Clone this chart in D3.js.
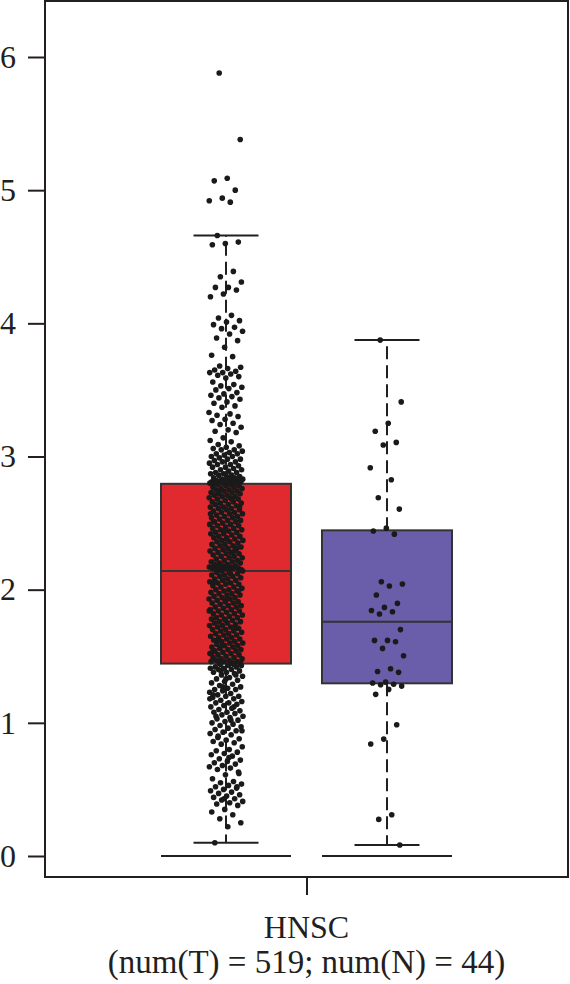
<!DOCTYPE html>
<html>
<head>
<meta charset="utf-8">
<script src="https://cdn.jsdelivr.net/npm/d3@7"></script>
<style>
  body { margin: 0; background: #fff; }
  text { font-family: "Liberation Serif", "Times New Roman", serif; fill: #231f20; }
</style>
</head>
<body>
<div id="chart"></div>
<script>
// data
var cancerType = ["HNSC"];
var groups = ["Tumor", "Normal"];
var groupColors = ["#e02a2f", "#6a5eab"];
var yTicks = [0, 1, 2, 3, 4, 5, 6];
var subLabel = "(num(T) = 519; num(N) = 44)";

// tumor samples (519)
var tumorValues = [
  5.88, 5.38, 5.09, 5.07, 5.00, 4.94, 4.92, 4.91,
  4.66, 4.61, 4.60, 4.59,
  4.39, 4.35, 4.31, 4.27, 4.27, 4.25, 4.22, 4.20,
  4.06, 4.04, 4.02, 4.01, 3.99, 3.97, 3.96, 3.94, 3.92, 3.89,
  3.87, 3.82, 3.76, 3.75, 3.68,
  3.67, 3.66, 3.65, 3.64, 3.63, 3.63, 3.62, 3.61, 3.60, 3.59,
  3.56, 3.54, 3.53, 3.52, 3.51, 3.50,
  3.48, 3.47, 3.46, 3.45, 3.44,
  3.43, 3.41, 3.40, 3.38, 3.37,
  3.33, 3.32, 3.31, 3.30, 3.28, 3.27, 3.25, 3.24,
  3.22, 3.20, 3.19, 3.18,
  3.14, 3.12, 3.11, 3.09, 3.08, 3.07,
  3.06, 3.05, 3.05, 3.04, 3.03, 3.02, 3.02, 3.01, 3.00, 3.00,
  2.99, 2.98, 2.98, 2.97, 2.96, 2.96, 2.95, 2.94, 2.94, 2.93,
  2.92, 2.92, 2.91, 2.90, 2.90, 2.89, 2.88, 2.88, 2.87, 2.87,
  2.86, 2.86, 2.85, 2.85, 2.84, 2.84, 2.83, 2.83, 2.83, 2.82,
  2.82, 2.82, 2.81, 2.81, 2.81, 2.81, 2.80, 2.80, 2.80, 2.80, 2.80,
  2.79, 2.79, 2.78, 2.78, 2.77, 2.77, 2.76, 2.76, 2.75, 2.75,
  2.74, 2.74, 2.73, 2.73, 2.72, 2.72, 2.71, 2.71, 2.70, 2.70,
  2.69, 2.69, 2.68, 2.68, 2.67, 2.66, 2.66, 2.65, 2.65, 2.64,
  2.64, 2.63, 2.62, 2.62, 2.61, 2.61, 2.60, 2.60, 2.59, 2.58,
  2.58, 2.57, 2.57, 2.56, 2.55, 2.55, 2.54, 2.54, 2.53, 2.52,
  2.52, 2.51, 2.51, 2.50, 2.49, 2.49, 2.48, 2.48, 2.47, 2.46,
  2.46, 2.45, 2.45, 2.44, 2.43, 2.43, 2.42, 2.42, 2.41, 2.40,
  2.40, 2.39, 2.39, 2.38, 2.37, 2.37, 2.36, 2.36, 2.35, 2.34,
  2.34, 2.33, 2.33, 2.32, 2.31, 2.31, 2.30, 2.30, 2.29, 2.28,
  2.28, 2.27, 2.27, 2.26, 2.25, 2.25, 2.24, 2.24, 2.23, 2.22,
  2.22, 2.21, 2.21, 2.20, 2.20, 2.19, 2.19, 2.18, 2.18, 2.17,
  2.17, 2.17, 2.16, 2.16, 2.16, 2.16, 2.15, 2.15, 2.15, 2.15,
  2.31, 2.44, 2.57, 2.68, 2.73, 2.62, 2.38, 2.51, 2.29,
  2.14, 2.14, 2.13, 2.13, 2.12, 2.11, 2.11, 2.10, 2.10, 2.09,
  2.08, 2.08, 2.07, 2.07, 2.06, 2.05, 2.05, 2.04, 2.04, 2.03,
  2.02, 2.02, 2.01, 2.00, 2.00, 1.99, 1.99, 1.98, 1.97, 1.97,
  1.96, 1.96, 1.95, 1.94, 1.94, 1.93, 1.93, 1.92, 1.91, 1.91,
  1.90, 1.90, 1.89, 1.88, 1.88, 1.87, 1.87, 1.86, 1.85, 1.85,
  1.84, 1.84, 1.83, 1.82, 1.82, 1.81, 1.81, 1.80, 1.79, 1.79,
  1.78, 1.78, 1.77, 1.76, 1.76, 1.75, 1.75, 1.74, 1.73, 1.73,
  1.72, 1.72, 1.71, 1.70, 1.70, 1.69, 1.69, 1.68, 1.67, 1.67,
  1.66, 1.66, 1.65, 1.64, 1.64, 1.63, 1.63, 1.62, 1.61, 1.61,
  1.60, 1.60, 1.59, 1.58, 1.58, 1.57, 1.57, 1.56, 1.55, 1.55,
  1.54, 1.54, 1.53, 1.52, 1.52, 1.51, 1.51, 1.50, 1.49, 1.49,
  1.48, 1.48, 1.47, 1.47, 1.46, 1.46, 1.46, 1.45, 1.45, 1.45,
  1.93, 2.06, 1.71, 1.58, 1.84, 2.12, 1.62, 1.99, 1.77, 1.53,
  1.44, 1.44, 1.43, 1.43, 1.42, 1.42, 1.41, 1.41, 1.40, 1.40,
  1.39, 1.38, 1.38, 1.37, 1.36, 1.35, 1.34, 1.33, 1.32, 1.31,
  1.30, 1.29, 1.28, 1.27, 1.26, 1.25, 1.25, 1.24, 1.23, 1.22,
  1.21, 1.20, 1.20, 1.19, 1.18, 1.17, 1.16, 1.15, 1.15, 1.14,
  1.13, 1.12, 1.11, 1.10, 1.09, 1.08, 1.08, 1.07, 1.06, 1.05,
  1.04, 1.03, 1.02, 1.01, 1.00, 0.99, 0.98, 0.97, 0.96, 0.95,
  0.94, 0.93, 0.92, 0.91, 0.90, 0.88, 0.87, 0.86, 0.85, 0.84,
  0.82, 0.80, 0.79, 0.78, 0.77, 0.76, 0.75, 0.73, 0.72, 0.71,
  0.70, 0.69, 0.68, 0.67, 0.66, 0.65, 0.63, 0.61, 0.58, 0.56,
  0.55, 0.54, 0.53, 0.52, 0.51, 0.50, 0.49, 0.48, 0.47, 0.46,
  0.45, 0.44, 0.43, 0.42, 0.41, 0.40, 0.39, 0.38, 0.35, 0.33,
  0.31, 0.28, 0.25, 0.22, 0.10, 1.36, 1.27, 1.18, 1.02, 0.89,
  0.62, 1.33, 1.21, 1.12, 1.39, 0.94, 0.74, 1.05, 0.52, 0.43
];

// normal samples (44)
var normalValues = [
  3.874, 3.41, 3.25, 3.19, 3.106, 3.086, 2.915, 2.825, 2.69, 2.605,
  2.462, 2.44, 2.417, 2.06, 2.042, 2.027, 1.96, 1.897, 1.867, 1.844,
  1.834, 1.817, 1.70, 1.619, 1.619, 1.609, 1.559, 1.504, 1.406, 1.386,
  1.379, 1.306, 1.299, 1.29, 1.286, 1.276, 1.251, 1.214, 0.986, 0.878,
  0.841, 0.31, 0.275, 0.083
];

var svgWidth = 570;
var svgHeight = 984;

var frame = { left: 45, right: 568, top: 1, bottom: 877 };

var svg = d3.select("#chart")
  .append("svg")
  .attr("width", svgWidth)
  .attr("height", svgHeight);

// scales
var yScale = d3.scaleLinear()
  .domain([0, 6])
  .range([856, 57]);

var xType = d3.scalePoint()
  .domain(cancerType)
  .range([frame.left, frame.right])
  .padding(0.5);

var center = xType("HNSC");
var xGroup = d3.scaleBand()
  .domain(groups)
  .range([center - 145.5, center + 145.5])
  .paddingInner(0.1925)
  .paddingOuter(0);

var boxW = xGroup.bandwidth();

// box stats from the values
function stats(vals) {
  var s = vals.slice().sort(d3.ascending);
  var q1 = d3.quantile(s, 0.25);
  var med = d3.quantile(s, 0.5);
  var q3 = d3.quantile(s, 0.75);
  var iqr = q3 - q1;
  var hi = d3.max(s.filter(v => v <= q3 + 1.5 * iqr));
  var lo = d3.min(s.filter(v => v >= q1 - 1.5 * iqr));
  return { q1: q1, med: med, q3: q3, hi: hi, lo: lo };
}

var series = [
  { name: "Tumor", values: tumorValues, color: groupColors[0] },
  { name: "Normal", values: normalValues, color: groupColors[1] }
];

var ink = "#231f20";

series.forEach(function (g) {
  var st = stats(g.values);
  var x0 = xGroup(g.name);
  var cx = x0 + boxW / 2;
  var gg = svg.append("g");

  // line at zero across the box width
  gg.append("line")
    .attr("x1", x0).attr("x2", x0 + boxW)
    .attr("y1", yScale(0)).attr("y2", yScale(0))
    .attr("stroke", ink).attr("stroke-width", 2);

  // whiskers
  gg.append("line")
    .attr("x1", cx).attr("x2", cx)
    .attr("y1", yScale(st.q3)).attr("y2", yScale(st.hi))
    .attr("stroke", ink).attr("stroke-width", 2)
    .attr("stroke-dasharray", "13,6");
  gg.append("line")
    .attr("x1", cx).attr("x2", cx)
    .attr("y1", yScale(st.q1)).attr("y2", yScale(st.lo))
    .attr("stroke", ink).attr("stroke-width", 2)
    .attr("stroke-dasharray", "13,6");
  [st.hi, st.lo].forEach(function (v) {
    gg.append("line")
      .attr("x1", cx - boxW / 4).attr("x2", cx + boxW / 4)
      .attr("y1", yScale(v)).attr("y2", yScale(v))
      .attr("stroke", ink).attr("stroke-width", 2);
  });

  // box
  gg.append("rect")
    .attr("x", x0)
    .attr("y", yScale(st.q3))
    .attr("width", boxW)
    .attr("height", yScale(st.q1) - yScale(st.q3))
    .attr("fill", g.color)
    .attr("stroke", "#333")
    .attr("stroke-width", 2);

  gg.append("line")
    .attr("x1", x0).attr("x2", x0 + boxW)
    .attr("y1", yScale(st.med)).attr("y2", yScale(st.med))
    .attr("stroke", "#333").attr("stroke-width", 2);

  // jittered points (golden-ratio spread, not random)
  gg.selectAll("circle")
    .data(g.values)
    .enter()
    .append("circle")
    .attr("cx", (d, i) => cx + (((i * 0.618034 + 0.3) % 1) - 0.5) * 34)
    .attr("cy", d => yScale(d))
    .attr("r", 2.8)
    .attr("fill", "#1a1a1a");
});

// frame
svg.append("rect")
  .attr("x", frame.left)
  .attr("y", frame.top)
  .attr("width", frame.right - frame.left)
  .attr("height", frame.bottom - frame.top)
  .attr("fill", "none")
  .attr("stroke", ink)
  .attr("stroke-width", 2);

// y axis
var leftAxis = d3.axisLeft(yScale)
  .tickValues(yTicks)
  .tickSize(17)
  .tickPadding(12)
  .tickFormat(d3.format("d"));

var yAxisG = svg.append("g")
  .attr("transform", `translate(${frame.left}, 0)`)
  .call(leftAxis);
yAxisG.select(".domain").remove();
yAxisG.selectAll(".tick line").attr("stroke", ink).attr("stroke-width", 2);
yAxisG.selectAll(".tick text")
  .attr("font-family", null)
  .style("font-size", "32px")
  .attr("fill", ink);

// x axis
var bottomAxis = d3.axisBottom(xType)
  .tickSize(18)
  .tickPadding(14);

var xAxisG = svg.append("g")
  .attr("transform", `translate(0, ${frame.bottom})`)
  .call(bottomAxis);
xAxisG.select(".domain").remove();
xAxisG.selectAll(".tick line").attr("stroke", ink).attr("stroke-width", 2);
xAxisG.selectAll(".tick text").remove();

svg.append("text")
  .attr("x", center)
  .attr("y", 938)
  .attr("text-anchor", "middle")
  .style("font-size", "32px")
  .text(cancerType[0]);

svg.append("text")
  .attr("x", center)
  .attr("y", 973)
  .attr("text-anchor", "middle")
  .style("font-size", "33px")
  .text(subLabel);
</script>
</body>
</html>
